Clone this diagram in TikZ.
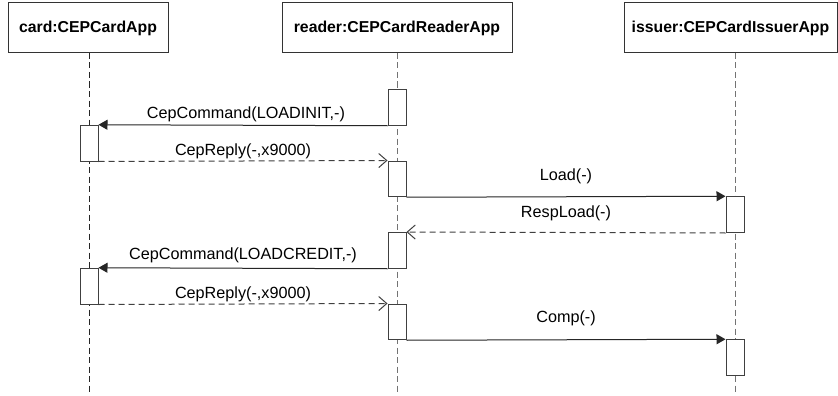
\documentclass[tikz,border=0pt]{standalone}
\usepackage{fontspec}
\setmainfont{Liberation Sans}
\usetikzlibrary{arrows.meta}

\tikzset{
  header/.style={draw=black!80, line width=1pt, fill=white, inner sep=0pt,
    minimum height=50pt, font=\fontsize{15.8}{19}\selectfont\bfseries},
  activation/.style={draw=black!75, line width=1pt, fill=white, inner sep=0pt,
    minimum width=18pt, minimum height=35.75pt, anchor=north},
  lifeline/.style={line width=1pt, dash pattern=on 6pt off 3.5pt},
  call/.style={draw=black!85, line width=1pt,
    -{Triangle[length=9pt,width=10pt]}},
  reply/.style={draw=black!75, line width=1pt, dash pattern=on 6pt off 4pt,
    -{Straight Barb[length=8pt,width=14pt,line width=1pt]}},
  msglabel/.style={font=\fontsize{16.2}{19}\selectfont, anchor=base, inner sep=0pt}
}

\begin{document}
\begin{tikzpicture}[x=1pt, y=-1pt]
  \useasboundingbox[fill=white] (0,0) rectangle (838,396);

  % object headers
  \node[header, minimum width=160pt] (card)   at (88,28)    {card:CEPCardApp};
  \node[header, minimum width=230pt] (reader) at (397,28)   {reader:CEPCardReaderApp};
  \node[header, minimum width=213pt] (issuer) at (730.5,28) {issuer:CEPCardIssuerApp};

  % lifeline ends
  \coordinate (cTop) at (89,53);   \coordinate (cEnd) at (89,394);
  \coordinate (rTop) at (397,53);  \coordinate (rEnd) at (397,394);
  \coordinate (iTop) at (735,53);  \coordinate (iEnd) at (735,394);

  \draw[lifeline, draw=black!85] (cTop) -- (cEnd);
  \draw[lifeline, draw=black!55] (rTop) -- (rEnd);
  \draw[lifeline, draw=black!55] (iTop) -- (iEnd);

  % activation bars
  \node[activation] (r1) at (397,89)     {};
  \node[activation] (c1) at (89,124.75)  {};
  \node[activation] (r2) at (397,160.5)  {};
  \node[activation] (i1) at (735,196.25) {};
  \node[activation] (r3) at (397,232)    {};
  \node[activation] (c2) at (89,267.75)  {};
  \node[activation] (r4) at (397,303.5)  {};
  \node[activation] (i2) at (735,339.25) {};

  % messages
  \draw[call] (r1.south west) -- (c1.north east)
    node[msglabel, midway, yshift=7pt, xshift=3pt] {CepCommand(LOADINIT,-)};
  \draw[reply] (c1.south east) -- (r2.north west)
    node[msglabel, midway, yshift=6pt] {CepReply(-,x9000)};
  \draw[call] (r2.south east) -- (i1.north west)
    node[msglabel, midway, yshift=16pt] {Load(-)};
  \draw[reply] (i1.south west) -- (r3.north east)
    node[msglabel, midway, yshift=15pt] {RespLoad(-)};
  \draw[call] (r3.south west) -- (c2.north east)
    node[msglabel, midway, yshift=9pt] {CepCommand(LOADCREDIT,-)};
  \draw[reply] (c2.south east) -- (r4.north west)
    node[msglabel, midway, yshift=6pt] {CepReply(-,x9000)};
  \draw[call] (r4.south east) -- (i2.north west)
    node[msglabel, midway, yshift=17pt] {Comp(-)};
\end{tikzpicture}
\end{document}
